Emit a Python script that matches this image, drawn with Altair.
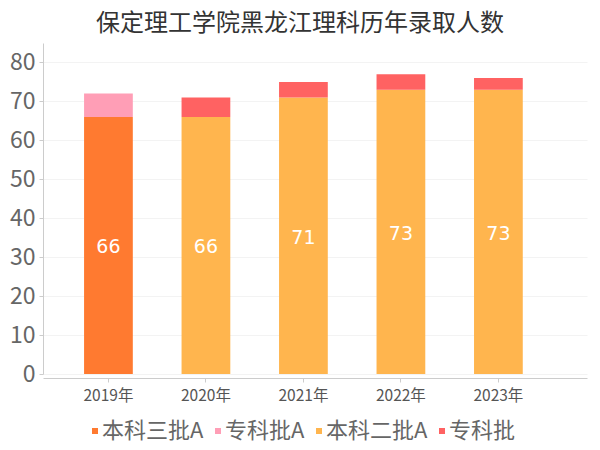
import altair as alt
import pandas as pd

years = ["2019年", "2020年", "2021年", "2022年", "2023年"]
bottom_type = ["本科三批A", "本科二批A", "本科二批A", "本科二批A", "本科二批A"]
bottom_value = [66, 66, 71, 73, 73]
top_type = ["专科批A", "专科批", "专科批", "专科批", "专科批"]
top_value = [6, 5, 4, 4, 3]

legend_order = ["本科三批A", "专科批A", "本科二批A", "专科批"]
colors = ["#FF7A30", "#FF9EB6", "#FFB54E", "#FF6262"]

rows = []
for y, bt, bv, tt, tv in zip(years, bottom_type, bottom_value, top_type, top_value):
    rows.append({"year": y, "type": bt, "value": bv, "ord": 0})
    rows.append({"year": y, "type": tt, "value": tv, "ord": 1})
df = pd.DataFrame(rows)

font = "Noto Sans CJK SC"

xenc = alt.X(
    "year:N",
    sort=years,
    title=None,
    scale=alt.Scale(paddingInner=0.5, paddingOuter=0.54, align=0.39),
    axis=alt.Axis(
        labelAngle=0, labelFontSize=15.5, labelColor="#555555", labelFont=font,
        domainColor="#cccccc", tickColor="#cccccc", tickSize=4, offset=4,
        labelPadding=6,
    ),
)

bars = alt.Chart(df).mark_bar().encode(
    x=xenc,
    y=alt.Y(
        "value:Q",
        stack="zero",
        title=None,
        scale=alt.Scale(domain=[0, 85], nice=False),
        axis=alt.Axis(
            values=list(range(0, 81, 10)), labelFontSize=23, labelColor="#666666",
            labelFont=font, gridColor="#f3f3f3", domainColor="#cccccc",
            tickColor="#cccccc", tickSize=4, labelPadding=4,
        ),
    ),
    color=alt.Color(
        "type:N",
        scale=alt.Scale(domain=legend_order, range=colors),
        legend=alt.Legend(
            title=None, orient="none", direction="horizontal",
            legendX=41, legendY=377, symbolType="square", symbolSize=36,
            symbolStrokeWidth=0, labelFontSize=22, labelColor="#666666",
            labelFont=font, columnPadding=3, labelOffset={"expr": "-4"},
        ),
    ),
    order=alt.Order("ord:Q"),
)

labels = alt.Chart(df).transform_filter(
    "datum.ord == 0"
).transform_calculate(
    mid="datum.value / 2"
).mark_text(color="white", fontSize=19, font="DejaVu Sans", dy=2).encode(
    x=alt.X("year:N", sort=years),
    y=alt.Y("mid:Q"),
    text=alt.Text("value:Q"),
)

chart = alt.layer(bars, labels).properties(
    width=544,
    height=331,
    autosize=alt.AutoSizeParams(type="none"),
    padding={"left": 35, "top": 35, "right": 5, "bottom": 68},
    title=alt.TitleParams(
        "保定理工学院黑龙江理科历年录取人数", fontSize=24, color="#333333",
        font=font, fontWeight="normal", anchor="middle", dx=-15, offset=7,
    ),
).configure_view(stroke=None)

chart.save("out.html", embed_options={"renderer": "svg", "actions": False})
